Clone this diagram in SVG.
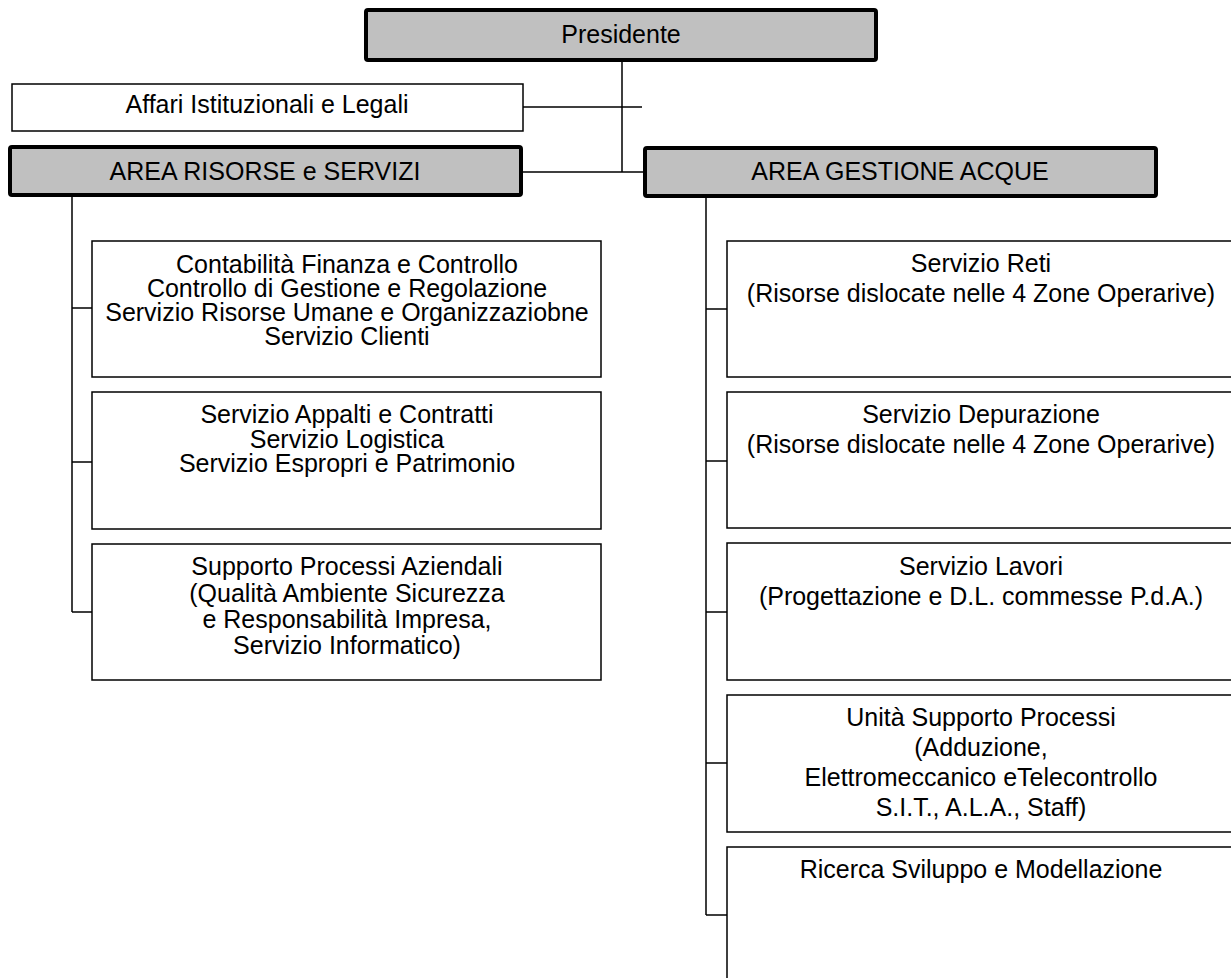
<svg xmlns="http://www.w3.org/2000/svg" width="1231" height="978" viewBox="0 0 1231 978">
<style>
.head{fill:#c0c0c0;stroke:#000;stroke-width:4;stroke-linejoin:round}
.box{fill:#fff;stroke:#000;stroke-width:1.5}
.ln{fill:none;stroke:#000;stroke-width:1.5}
text{font-family:"Liberation Sans",Arial,sans-serif;font-size:25px;fill:#000;text-anchor:middle}
</style>
<rect width="1231" height="978" fill="#fff"/>
<g id="connectors">
<path class="ln" d="M622 62V172M523 107H642M523 172H645"/>
<path class="ln" d="M72 197V612M72 308H92M72 462H92M72 612H92"/>
<path class="ln" d="M706 198V915M706 309H727M706 461H727M706 612H727M706 763H727M706 915H727"/>
</g>
<g id="presidente"><rect class="head" x="366" y="10" width="510" height="50" rx="2"/><text x="621" y="43">Presidente</text></g>
<g id="affari"><rect class="box" x="12" y="84" width="511" height="47"/><text x="267" y="113">Affari Istituzionali e Legali</text></g>
<g id="area-risorse"><rect class="head" x="10" y="147" width="511" height="48" rx="2"/><text x="265" y="180">AREA RISORSE e SERVIZI</text></g>
<g id="area-gestione"><rect class="head" x="645" y="148" width="511" height="48" rx="2"/><text x="900" y="180">AREA GESTIONE ACQUE</text></g>
<g id="contabilita"><rect class="box" x="92" y="241" width="509" height="136"/>
<text x="347" y="273">Contabilità Finanza e Controllo</text>
<text x="347" y="297">Controllo di Gestione e Regolazione</text>
<text x="347" y="321">Servizio Risorse Umane e Organizzaziobne</text>
<text x="347" y="345">Servizio Clienti</text></g>
<g id="appalti"><rect class="box" x="92" y="392" width="509" height="137"/>
<text x="347" y="423">Servizio Appalti e Contratti</text>
<text x="347" y="448">Servizio Logistica</text>
<text x="347" y="472">Servizio Espropri e Patrimonio</text></g>
<g id="supporto"><rect class="box" x="92" y="544" width="509" height="136"/>
<text x="347" y="575">Supporto Processi Aziendali</text>
<text x="347" y="602">(Qualità Ambiente Sicurezza</text>
<text x="347" y="628">e Responsabilità Impresa,</text>
<text x="347" y="654">Servizio Informatico)</text></g>
<g id="reti"><rect class="box" x="727" y="241" width="510" height="136"/>
<text x="981" y="272">Servizio Reti</text>
<text x="981" y="302">(Risorse dislocate nelle 4 Zone Operarive)</text></g>
<g id="depurazione"><rect class="box" x="727" y="392" width="510" height="136"/>
<text x="981" y="423">Servizio Depurazione</text>
<text x="981" y="453">(Risorse dislocate nelle 4 Zone Operarive)</text></g>
<g id="lavori"><rect class="box" x="727" y="543" width="510" height="137"/>
<text x="981" y="575">Servizio Lavori</text>
<text x="981" y="605">(Progettazione e D.L. commesse P.d.A.)</text></g>
<g id="unita"><rect class="box" x="727" y="695" width="510" height="137"/>
<text x="981" y="726">Unità Supporto Processi</text>
<text x="981" y="756">(Adduzione,</text>
<text x="981" y="786">Elettromeccanico eTelecontrollo</text>
<text x="981" y="816">S.I.T., A.L.A., Staff)</text></g>
<g id="ricerca"><rect class="box" x="727" y="847" width="510" height="150"/>
<text x="981" y="878">Ricerca Sviluppo e Modellazione</text></g>
</svg>
